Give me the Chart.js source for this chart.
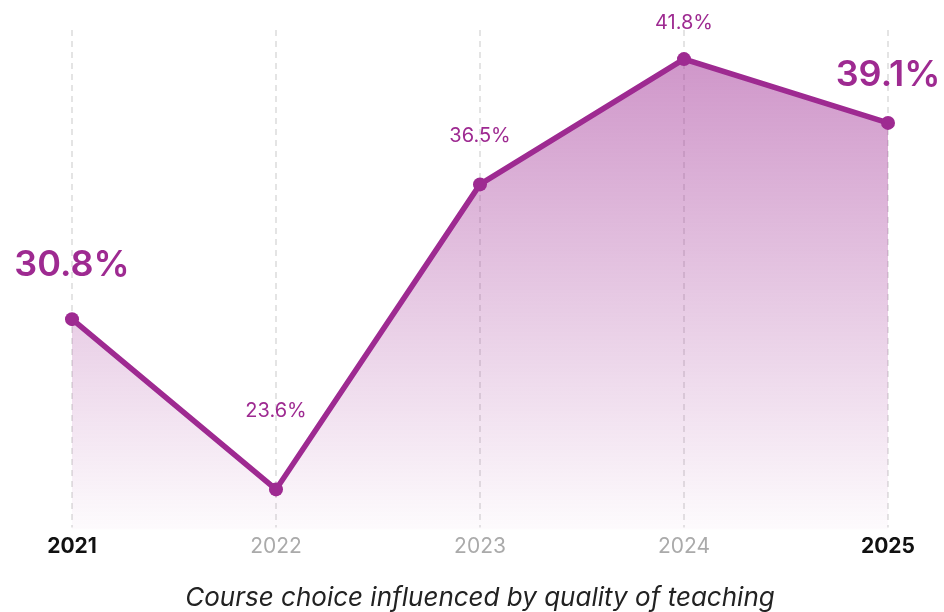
<!DOCTYPE html>
<html>
<head>
<meta charset="utf-8">
<script src="https://cdn.jsdelivr.net/npm/chart.js@4.4.0/dist/chart.umd.min.js"></script>
<style>
    html, body { margin: 0; padding: 0; background: #fff; }
    .chart-container { position: relative; width: 944px; height: 612px; }
</style>
</head>
<body>
<div class="chart-container">
    <canvas id="teachingChart"></canvas>
</div>
<script>
// Chart data
const years = ['2021', '2022', '2023', '2024', '2025'];
const shares = [30.8, 23.6, 36.5, 41.8, 39.1];
const highlighted = [true, false, false, false, true];
const labelLift = [54, 78, 48, 36, 48];

const purple = '#9e2a91';

// Value labels above each point
const valueLabels = {
    id: 'valueLabels',
    afterDatasetsDraw(chart) {
        const ctx = chart.ctx;
        const meta = chart.getDatasetMeta(0);
        ctx.save();
        ctx.textAlign = 'center';
        ctx.textBaseline = 'middle';
        ctx.fillStyle = purple;
        meta.data.forEach((pt, i) => {
            ctx.font = highlighted[i] ? '600 36px Inter' : '400 20px Inter';
            ctx.fillText(shares[i].toFixed(1) + '%', pt.x, pt.y - labelLift[i]);
        });
        ctx.restore();
    }
};

// dashed vertical guides through each year
const dashGrid = {
    id: 'dashGrid',
    beforeDatasetsDraw(chart) {
        const c = chart.ctx;
        const area = chart.chartArea;
        const xs = chart.scales.x;
        c.save();
        c.strokeStyle = '#dcdcdc';
        c.lineWidth = 1.5;
        c.setLineDash([6, 5]);
        years.forEach((y, i) => {
            const x = xs.getPixelForValue(i);
            c.beginPath();
            c.moveTo(x, area.top);
            c.lineTo(x, area.bottom - 2);
            c.stroke();
        });
        c.restore();
    }
};

const ctx = document.getElementById('teachingChart').getContext('2d');
new Chart(ctx, {
    type: 'line',
    data: {
        labels: years,
        datasets: [{
            data: shares,
            borderColor: purple,
            borderWidth: 5.5,
            tension: 0,
            fill: 'start',
            backgroundColor: (context) => {
                const area = context.chart.chartArea;
                if (!area) return 'rgba(158, 42, 146, 0.3)';
                const g = context.chart.ctx.createLinearGradient(0, area.top, 0, area.bottom);
                g.addColorStop(0, 'rgba(158, 42, 146, 0.52)');
                g.addColorStop(1, 'rgba(158, 42, 146, 0.02)');
                return g;
            },
            pointRadius: 7,
            pointHoverRadius: 7,
            pointBackgroundColor: purple,
            pointBorderColor: purple,
            pointBorderWidth: 0
        }]
    },
    options: {
        responsive: true,
        maintainAspectRatio: false,
        animation: false,
        layout: {
            padding: { left: 72, right: 56, top: 30, bottom: -2 }
        },
        plugins: {
            legend: { display: false },
            tooltip: { enabled: false },
            title: {
                display: true,
                position: 'bottom',
                text: 'Course choice influenced by quality of teaching',
                color: '#222',
                font: { family: 'Inter', size: 26, style: 'italic', weight: '400' },
                padding: { top: 28, bottom: 0 }
            }
        },
        scales: {
            x: {
                offset: false,
                border: { display: false },
                grid: { display: false },
                ticks: {
                    padding: -4,
                    color: (c) => highlighted[c.index] ? '#111' : '#aaaaaa',
                    font: (c) => ({
                        family: 'Inter',
                        size: 21,
                        weight: highlighted[c.index] ? '700' : '400'
                    })
                }
            },
            y: {
                display: false,
                min: 21.9,
                max: 43.03
            }
        }
    },
    plugins: [valueLabels, dashGrid]
});
</script>
</body>
</html>
